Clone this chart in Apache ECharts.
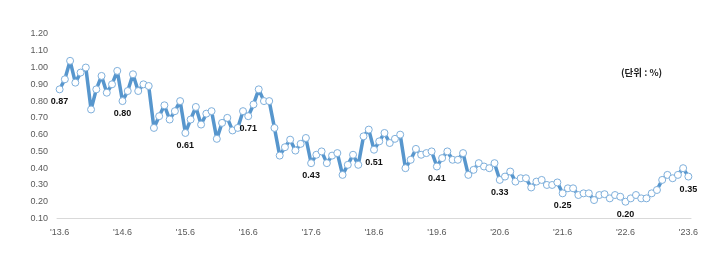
<!DOCTYPE html>
<html><head><meta charset="utf-8">
<script src="https://cdn.jsdelivr.net/npm/echarts@6/dist/echarts.min.js"></script>
<style>html,body{margin:0;padding:0;background:#fff}#c{width:718px;height:272px}</style>
</head><body><div id="c"></div>
<script>
// categories: monthly from 2013.6 to 2023.6
var categories = [];
for (var y = 13; y <= 23; y++) {
  var start = (y === 13) ? 6 : 1;
  var end = (y === 23) ? 6 : 12;
  for (var m = start; m <= end; m++) categories.push("'" + y + "." + m);
}
var tickLabels = ["'13.6","'14.6","'15.6","'16.6","'17.6","'18.6","'19.6","'20.6","'21.6","'22.6","'23.6"];
var yTicks = [0.10,0.20,0.30,0.40,0.50,0.60,0.70,0.80,0.90,1.00,1.10,1.20];
var rate2013 = [0.87,0.93,1.04,0.91,0.97,1.00,0.75,0.87,0.95,0.85,0.90,0.98];
var rate2014 = [0.80,0.86,0.96,0.86,0.90,0.89,0.64,0.71,0.775,0.69,0.74,0.80];
var rate2015 = [0.61,0.69,0.765,0.66,0.725,0.74,0.575,0.67,0.70,0.625,0.64,0.74];
var rate2016 = [0.71,0.78,0.87,0.80,0.80,0.64,0.475,0.525,0.57,0.505,0.545,0.58];
var rate2017 = [0.43,0.48,0.50,0.43,0.475,0.49,0.36,0.42,0.48,0.42,0.59,0.63];
var rate2018 = [0.51,0.56,0.61,0.55,0.575,0.60,0.40,0.45,0.515,0.48,0.49,0.50];
var rate2019 = [0.41,0.46,0.50,0.45,0.45,0.49,0.36,0.39,0.43,0.41,0.40,0.43];
var rate2020 = [0.33,0.35,0.38,0.32,0.34,0.34,0.285,0.32,0.33,0.30,0.30,0.315];
var rate2021 = [0.25,0.28,0.28,0.24,0.25,0.25,0.21,0.24,0.245,0.22,0.24,0.23];
var rate2022 = [0.20,0.22,0.24,0.22,0.22,0.25,0.27,0.33,0.36,0.34,0.36,0.40];
var rate2023 = [0.35];
var values = [].concat(rate2013,rate2014,rate2015,rate2016,rate2017,rate2018,rate2019,rate2020,rate2021,rate2022,rate2023);

var chart = echarts.init(document.getElementById('c'));
chart.setOption({
  animation: false,
  backgroundColor: '#fff',
  textStyle: { fontFamily: 'Liberation Sans, Arial, sans-serif' },
  grid: { left: 57, right: 27, top: 34, bottom: 53.5 },
  graphic: [{
    type: 'text', left: 621, top: 68,
    style: { text: '(단위 : %)', fontFamily: 'Noto Sans CJK KR', fontSize: 9.5, fontWeight: 'bold', fill: '#222' }
  }],
  xAxis: {
    type: 'category',
    data: categories,
    boundaryGap: true,
    axisLine: { lineStyle: { color: '#d9d9d9', width: 1 } },
    axisTick: { show: false },
    axisLabel: {
      interval: 11, color: '#595959', fontSize: 9, margin: 10,
      formatter: function (v) { return tickLabels.indexOf(v) >= 0 ? v : ''; }
    },
    splitLine: { show: false }
  },
  yAxis: {
    type: 'value',
    min: yTicks[0], max: yTicks[yTicks.length - 1], interval: 0.1,
    axisLine: { show: false }, axisTick: { show: false },
    splitLine: { show: false },
    axisLabel: { color: '#595959', fontSize: 9, margin: 9,
      formatter: function (v) { return v.toFixed(2); } }
  },
  series: [{
    type: 'line',
    data: values,
    showAllSymbol: true,
    lineStyle: { color: '#5796cd', width: 3.5 },
    symbol: 'circle', symbolSize: 7,
    itemStyle: { color: '#ffffff', borderColor: '#7fb0dc', borderWidth: 1 },
    label: {
      show: true, position: 'bottom', distance: 4,
      fontSize: 9, fontWeight: 'bold', color: '#111',
      formatter: function (p) {
        return tickLabels.indexOf(categories[p.dataIndex]) >= 0 ? p.value.toFixed(2) : '';
      }
    }
  }]
});
</script></body></html>
